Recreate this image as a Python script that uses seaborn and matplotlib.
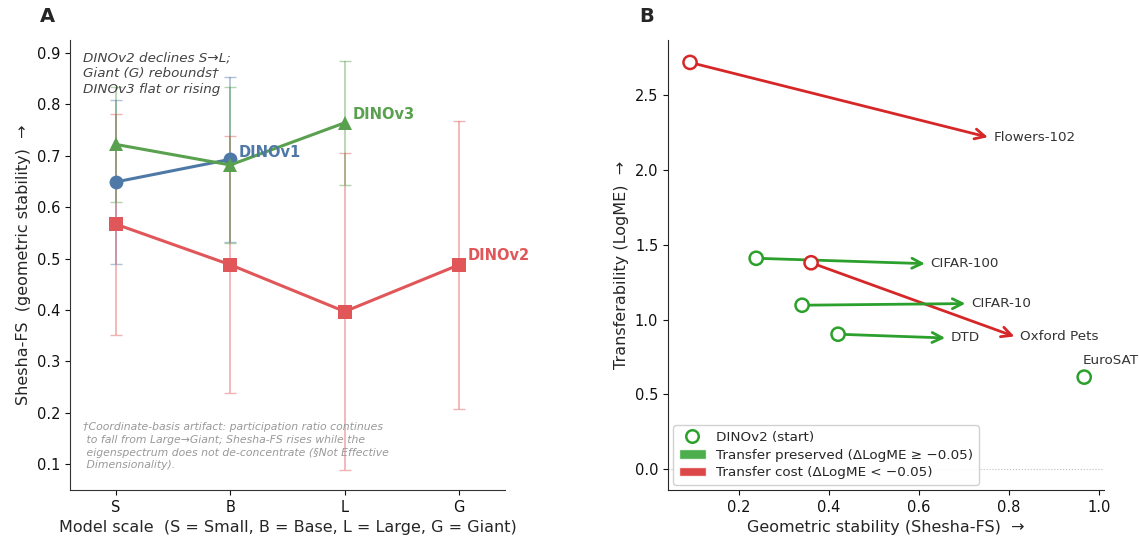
import numpy as np
import pandas as pd
import matplotlib
matplotlib.use("Agg")
import matplotlib.pyplot as plt
import seaborn as sns
from matplotlib.lines import Line2D
from matplotlib.patches import Patch

# panel A: Shesha-FS by model scale
scales = ["S", "B", "L", "G"]
dinov1_mean = [0.649, 0.693]
dinov1_err = [0.160, 0.161]
dinov2_mean = [0.567, 0.488, 0.397, 0.488]
dinov2_err = [0.215, 0.250, 0.308, 0.280]
dinov3_mean = [0.722, 0.682, 0.764]
dinov3_err = [0.112, 0.152, 0.120]

# panel B: DINOv2 -> DINOv3 shift per dataset
datasets = ["Flowers-102", "CIFAR-100", "Oxford Pets", "CIFAR-10", "DTD", "EuroSAT"]
fs_start = [0.091, 0.238, 0.360, 0.340, 0.420, 0.967]
fs_end = [0.753, 0.613, 0.812, 0.703, 0.658, np.nan]
logme_start = [2.72, 1.41, 1.38, 1.096, 0.902, 0.615]
logme_end = [2.22, 1.374, 0.887, 1.107, 0.877, np.nan]

sns.set_style("ticks")
plt.rcParams["font.family"] = ["DejaVu Sans"]

fig = plt.figure(figsize=(11.39, 5.4), dpi=100)
axA = fig.add_axes([70 / 1139, 50 / 540, 435 / 1139, 450 / 540])
axB = fig.add_axes([668 / 1139, 50 / 540, 436 / 1139, 450 / 540])

series = [
    ("DINOv1", dinov1_mean, dinov1_err, "#4e79a7", "o"),
    ("DINOv2", dinov2_mean, dinov2_err, "#e15759", "s"),
    ("DINOv3", dinov3_mean, dinov3_err, "#59a14f", "^"),
]

rows = []
for name, m, e, c, mk in series:
    for i, (v, err) in enumerate(zip(m, e)):
        rows.append({"model": name, "pos": i, "fs": v, "err": err})
dfA = pd.DataFrame(rows)

for name, m, e, c, mk in series:
    d = dfA[dfA.model == name]
    axA.errorbar(d.pos, d.fs, yerr=d.err, fmt="none", ecolor=c, alpha=0.45,
                 capsize=4, elinewidth=1.3, zorder=1)

palette = {name: c for name, m, e, c, mk in series}
markers = {name: mk for name, m, e, c, mk in series}
sns.lineplot(data=dfA, x="pos", y="fs", hue="model", style="model",
             palette=palette, markers=markers, dashes=False, markersize=10,
             markeredgewidth=0, linewidth=2.2, legend=False, ax=axA, zorder=3)

label_off = {"DINOv1": (0.07, 0.014), "DINOv2": (0.07, 0.018), "DINOv3": (0.07, 0.016)}
for name, m, e, c, mk in series:
    dx, dy = label_off[name]
    axA.text(len(m) - 1 + dx, m[-1] + dy, name, color=c, fontsize=10.5,
             fontweight="bold", va="center", ha="left")

axA.set_xticks(range(len(scales)))
axA.set_xticklabels(scales)
axA.set_xlim(-0.4, 3.4)
axA.set_ylim(0.05, 0.925)
axA.tick_params(labelsize=10.5, colors="#111111")
axA.set_xlabel("Model scale  (S = Small, B = Base, L = Large, G = Giant)", fontsize=11.5)
axA.set_ylabel("Shesha-FS  (geometric stability)  \u2192", fontsize=11.5)
axA.text(0.03, 0.975, "DINOv2 declines S\u2192L;\nGiant (G) rebounds\u2020\nDINOv3 flat or rising",
         transform=axA.transAxes, fontsize=9.7, style="italic", color="#444444",
         va="top", ha="left", linespacing=1.27)
axA.text(0.03, 0.15,
         "\u2020Coordinate-basis artifact: participation ratio continues\n"
         " to fall from Large\u2192Giant; Shesha-FS rises while the\n"
         " eigenspectrum does not de-concentrate (\u00a7Not Effective\n"
         " Dimensionality).",
         transform=axA.transAxes, fontsize=7.85, style="italic", color="#999999",
         va="top", ha="left", linespacing=1.32)
for sp in axA.spines.values():
    sp.set_color("#333333")

# panel B
green, red = "#2ca02c", "#d62728"
dfB = pd.DataFrame({"dataset": datasets, "fs0": fs_start, "fs1": fs_end,
                    "lm0": logme_start, "lm1": logme_end})
dfB["delta"] = dfB.lm1 - dfB.lm0
dfB["kind"] = np.where(dfB.delta < -0.05, "cost", "preserved")
cols = {"cost": red, "preserved": green}

axB.axhline(0, color="#bbbbbb", lw=0.8, ls=":", zorder=0)
for _, r in dfB.iterrows():
    c = cols[r.kind]
    if np.isnan(r.fs1):
        axB.annotate(r.dataset, (r.fs0, r.lm0), xytext=(-1, 7), textcoords="offset points",
                     fontsize=9.7, color="#333333", ha="left", va="bottom")
        continue
    axB.annotate("", xy=(r.fs1, r.lm1), xytext=(r.fs0, r.lm0),
                 arrowprops=dict(arrowstyle="->", color=c, lw=2, mutation_scale=18,
                                 shrinkA=5, shrinkB=0), zorder=2)
    axB.annotate(r.dataset, (r.fs1, r.lm1), xytext=(4, 0), textcoords="offset points",
                 fontsize=9.7, color="#333333", ha="left", va="center")

sns.scatterplot(data=dfB, x="fs0", y="lm0", hue="kind", palette=cols, legend=False,
                s=90, facecolor="white", linewidth=1.8, ax=axB, zorder=4)
# open markers: edgecolor follows hue
coll = axB.collections[-1]
coll.set_edgecolors([cols[k] for k in dfB.kind])
coll.set_facecolors("white")

axB.set_xlim(0.042, 1.011)
axB.set_ylim(-0.14, 2.87)
axB.set_yticks([0.0, 0.5, 1.0, 1.5, 2.0, 2.5])
axB.set_xticks([0.2, 0.4, 0.6, 0.8, 1.0])
axB.tick_params(labelsize=10.5, colors="#111111")
axB.set_xlabel("Geometric stability (Shesha-FS)  \u2192", fontsize=11.5)
axB.set_ylabel("Transferability (LogME)  \u2192", fontsize=11.5)

handles = [
    Line2D([], [], marker="o", ls="none", markerfacecolor="white",
           markeredgecolor=green, markeredgewidth=1.8, markersize=9, label="DINOv2 (start)"),
    Patch(facecolor=green, alpha=0.85, label="Transfer preserved (\u0394LogME \u2265 \u22120.05)"),
    Patch(facecolor=red, alpha=0.85, label="Transfer cost (\u0394LogME < \u22120.05)"),
]
axB.legend(handles=handles, loc="lower left", fontsize=9.7, framealpha=0.9,
           borderaxespad=0.4, labelspacing=0.35)

sns.despine(fig=fig)
fig.text(47 / 1139, 1 - 17 / 540, "A", fontsize=14, fontweight="bold", va="center", ha="center")
fig.text(647 / 1139, 1 - 17 / 540, "B", fontsize=14, fontweight="bold", va="center", ha="center")

fig.savefig("out.png", dpi=100)
